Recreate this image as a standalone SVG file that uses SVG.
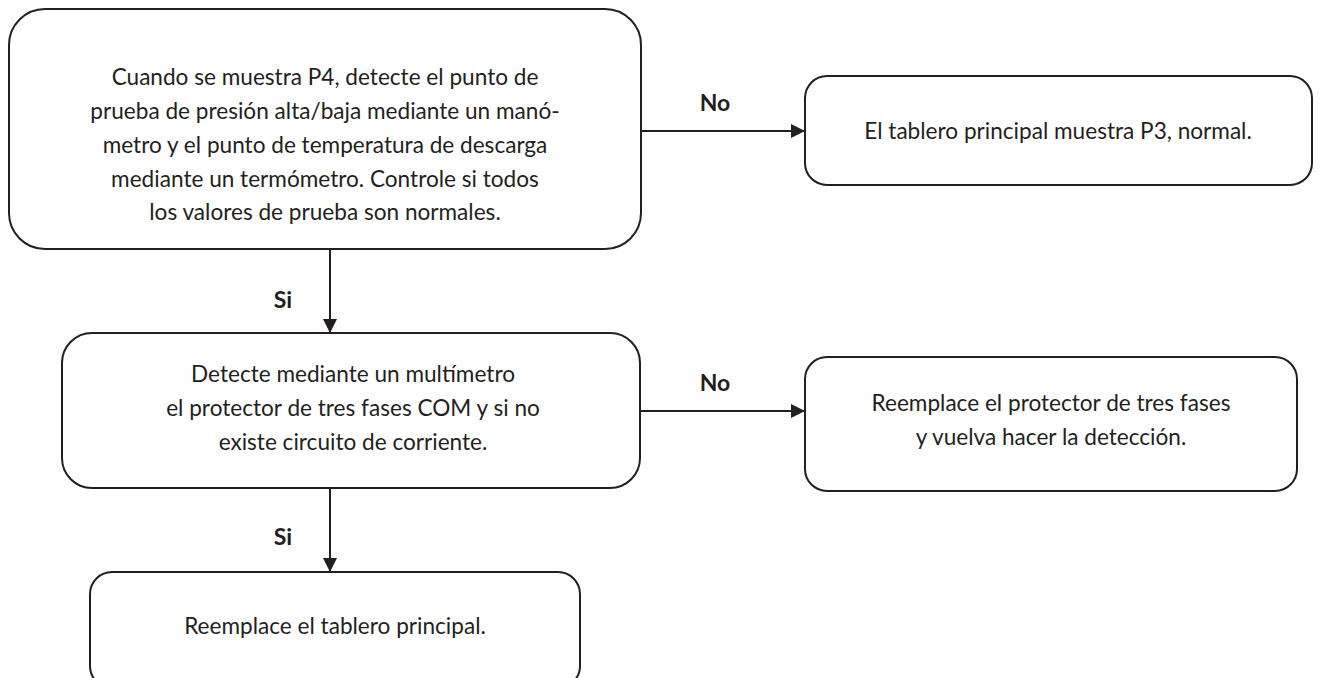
<svg xmlns="http://www.w3.org/2000/svg" width="1329" height="678" viewBox="0 0 1329 678">
<style>
.box{fill:#fff;stroke:#231f20;stroke-width:2}
.t{font-family:Lato,"Noto Sans",sans-serif;font-size:22.6px;fill:#231f20;text-anchor:middle}
.lb{font-family:Lato,"Noto Sans",sans-serif;font-size:23px;font-weight:bold;fill:#231f20;text-anchor:middle}
.ln{stroke:#231f20;stroke-width:2;fill:none}
</style>
<defs>
<marker id="ah" viewBox="0 0 10 10" refX="10" refY="5" markerWidth="7" markerHeight="7" markerUnits="strokeWidth" orient="auto">
<path d="M0,0 L10,5 L0,10 z" fill="#231f20"/>
</marker>
</defs>
<rect width="1329" height="678" fill="#fff"/>
<g id="connectors">
<line class="ln" x1="330" y1="249" x2="330" y2="333" marker-end="url(#ah)"/>
<line class="ln" x1="330" y1="488" x2="330" y2="572" marker-end="url(#ah)"/>
<line class="ln" x1="641" y1="131" x2="805" y2="131" marker-end="url(#ah)"/>
<line class="ln" x1="640" y1="411" x2="805" y2="411" marker-end="url(#ah)"/>
<text class="lb" x="715" y="111">No</text>
<text class="lb" x="715" y="391">No</text>
<text class="lb" x="283" y="308">Si</text>
<text class="lb" x="283" y="545">Si</text>
</g>
<g id="n1">
<rect class="box" x="9" y="9" width="632" height="240" rx="36"/>
<text class="t" x="325" y="85">Cuando se muestra P4, detecte el punto de</text>
<text class="t" x="325" y="119">prueba de presión alta/baja mediante un manó-</text>
<text class="t" x="325" y="153">metro y el punto de temperatura de descarga</text>
<text class="t" x="325" y="187">mediante un termómetro. Controle si todos</text>
<text class="t" x="325" y="220">los valores de prueba son normales.</text>
</g>
<g id="n2">
<rect class="box" x="805" y="76" width="507" height="109" rx="22"/>
<text class="t" x="1058" y="139">El tablero principal muestra P3, normal.</text>
</g>
<g id="n3">
<rect class="box" x="62" y="333" width="578" height="155" rx="30"/>
<text class="t" x="353" y="382">Detecte mediante un multímetro</text>
<text class="t" x="353" y="416">el protector de tres fases COM y si no</text>
<text class="t" x="353" y="450">existe circuito de corriente.</text>
</g>
<g id="n4">
<rect class="box" x="805" y="357" width="492" height="134" rx="22"/>
<text class="t" x="1051" y="411">Reemplace el protector de tres fases</text>
<text class="t" x="1051" y="445">y vuelva hacer la detección.</text>
</g>
<g id="n5">
<rect class="box" x="90" y="572" width="490" height="116" rx="22"/>
<text class="t" x="335" y="634">Reemplace el tablero principal.</text>
</g>
</svg>
